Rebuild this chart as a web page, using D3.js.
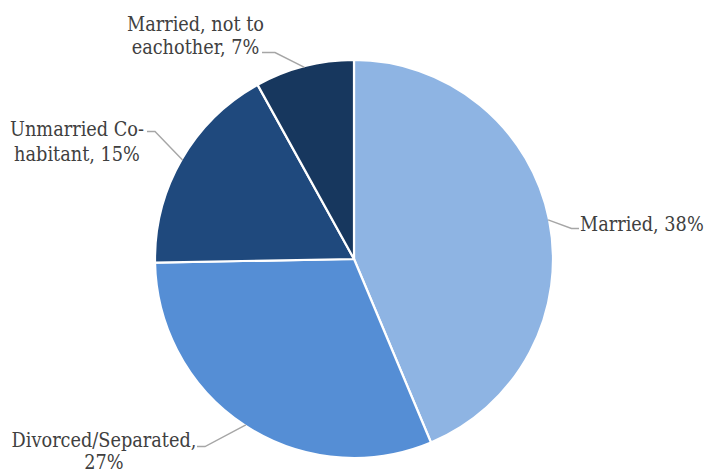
<!DOCTYPE html>
<html>
<head>
<meta charset="utf-8">
<script src="https://cdn.jsdelivr.net/npm/d3@7"></script>
<style>
  html, body { margin: 0; padding: 0; background: #fff; }
  svg { display: block; }
  .lbl { font-family: "DejaVu Serif Condensed", "DejaVu Serif", serif; font-stretch: condensed; font-size: 19.7px; fill: #404040; }
</style>
</head>
<body>
<svg id="chart" width="705" height="471"></svg>
<script>
// ---- data ----
const categories = ["Married", "Divorced/Separated", "Unmarried Co-habitant", "Married, not to eachother"];
const values = [38, 27, 15, 7];
const labelLines = [
  ["Married, 38%"],
  ["Divorced/Separated,", "27%"],
  ["Unmarried Co-", "habitant, 15%"],
  ["Married, not to", "eachother, 7%"]
];
const colors = ["#8EB4E3", "#558ED5", "#1F497D", "#17375E"];

// ---- layout (not data) ----
const cx = 354, cy = 259, R = 199;
const labelLayout = [
  { x: 580, anchor: "start", baselines: [231], bend: [571.5, 228.5], end: [579, 228.5] },
  { x: 104, anchor: "middle", baselines: [446.5, 469], bend: [205, 446.5], end: [197, 446.5] },
  { x: 77, anchor: "middle", baselines: [136, 161], bend: [155, 131.5], end: [147, 131.5] },
  { x: 195.5, anchor: "middle", baselines: [30.5, 54], bend: [275, 52.5], end: [262, 52.5] }
];

const svg = d3.select("#chart");
const g = svg.append("g").attr("transform", `translate(${cx},${cy})`);

const pie = d3.pie().sort(null).value(d => d);
const arcs = pie(values);
const arc = d3.arc().innerRadius(0).outerRadius(R);

const color = d3.scaleOrdinal().domain(categories).range(colors);

g.selectAll("path.slice")
  .data(arcs)
  .enter().append("path")
  .attr("class", "slice")
  .attr("d", arc)
  .attr("fill", (d, i) => color(categories[i]))
  .attr("stroke", "#ffffff")
  .attr("stroke-width", 2.2)
  .attr("stroke-linejoin", "round");

// leader lines
const edgeArc = d3.arc().innerRadius(R - 1).outerRadius(R - 1);
const leaders = svg.append("g");
arcs.forEach((a, i) => {
  const c = edgeArc.centroid(a);
  const L = labelLayout[i];
  const pts = [[cx + c[0], cy + c[1]], L.bend, L.end];
  leaders.append("path")
    .attr("d", d3.line()(pts))
    .attr("fill", "none")
    .attr("stroke", "#A6A6A6")
    .attr("stroke-width", 1.4);
});

// labels
const labels = svg.append("g");
labelLines.forEach((lines, i) => {
  const L = labelLayout[i];
  const t = labels.append("text").attr("class", "lbl").attr("text-anchor", L.anchor);
  lines.forEach((ln, j) => {
    t.append("tspan").attr("x", L.x).attr("y", L.baselines[j]).text(ln);
  });
});
</script>
</body>
</html>
